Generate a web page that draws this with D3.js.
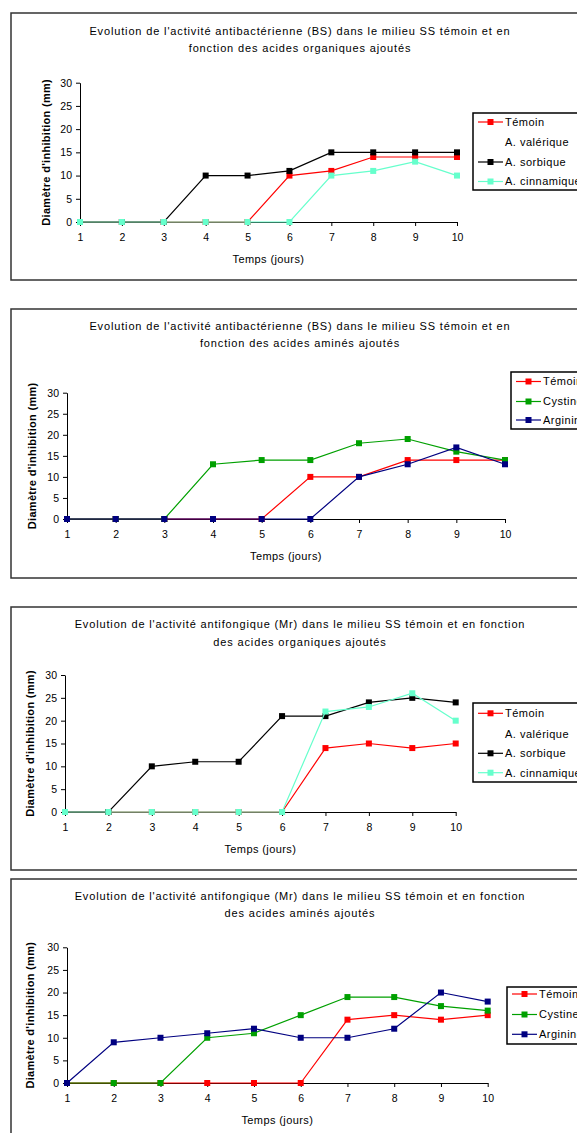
<!DOCTYPE html>
<html>
<head>
<meta charset="utf-8">
<script src="https://cdn.jsdelivr.net/npm/d3@7"></script>
<style>
  body { margin: 0; background: #fff; }
  svg { display: block; font-family: "Liberation Sans", Arial, sans-serif; }
</style>
</head>
<body>
<div id="chart"></div>
<script>
// Days on the x axis
const days = [1, 2, 3, 4, 5, 6, 7, 8, 9, 10];
const yTicks = [0, 5, 10, 15, 20, 25, 30];

// Chart 1 : BS, organic acids
const bsOrgTemoin = [0, 0, 0, 0, 0, 10, 11, 14, 14, 14];
const bsOrgValerique = [];
const bsOrgSorbique = [0, 0, 0, 10, 10, 11, 15, 15, 15, 15];
const bsOrgCinnamique = [0, 0, 0, 0, 0, 0, 10, 11, 13, 10];

// Chart 2 : BS, amino acids
const bsAmTemoin = [0, 0, 0, 0, 0, 10, 10, 14, 14, 14];
const bsAmCystine = [0, 0, 0, 13, 14, 14, 18, 19, 16, 14];
const bsAmArginine = [0, 0, 0, 0, 0, 0, 10, 13, 17, 13];

// Chart 3 : Mr, organic acids
const mrOrgTemoin = [0, 0, 0, 0, 0, 0, 14, 15, 14, 15];
const mrOrgValerique = [];
const mrOrgSorbique = [0, 0, 10, 11, 11, 21, 21, 24, 25, 24];
const mrOrgCinnamique = [0, 0, 0, 0, 0, 0, 22, 23, 26, 20];

// Chart 4 : Mr, amino acids
const mrAmTemoin = [0, 0, 0, 0, 0, 0, 14, 15, 14, 15];
const mrAmCystine = [0, 0, 0, 10, 11, 15, 19, 19, 17, 16];
const mrAmArginine = [0, 9, 10, 11, 12, 10, 10, 12, 20, 18];

const titles = [
    ["Evolution de l'activité antibactérienne (BS) dans le milieu SS témoin et en", "fonction des acides organiques ajoutés"],
    ["Evolution de l'activité antibactérienne (BS) dans le milieu SS témoin et en", "fonction des acides aminés ajoutés"],
    ["Evolution de l'activité antifongique (Mr) dans le milieu SS témoin et en fonction", "des acides organiques ajoutés"],
    ["Evolution de l'activité antifongique (Mr) dans le milieu SS témoin et en fonction", "des acides aminés ajoutés"]
];
const xTitle = 'Temps (jours)';
const yTitle = "Diamètre d'inhibition (mm)";

// Series colours
const cRed = '#ff0000';
const cBlack = '#000000';
const cCyan = '#66ffcc';
const cGreen = '#00a000';
const cNavy = '#000080';

const organic = (t, v, s, c) => [
    { name: 'Témoin', values: t, color: cRed },
    { name: 'A. valérique', values: v, color: 'none' },
    { name: 'A. sorbique', values: s, color: cBlack },
    { name: 'A. cinnamique', values: c, color: cCyan }
];
const amino = (t, c, a) => [
    { name: 'Témoin', values: t, color: cRed },
    { name: 'Cystine', values: c, color: cGreen },
    { name: 'Arginine', values: a, color: cNavy }
];

// Layout of each panel (box, plot area, legend)
const panels = [
    { top: 13, bottom: 280, titleY: [35, 52], x0: 80, x1: 457, y0: 222, y1: 82.7, yLabX: 46,
      leg: { x: 473, top: 113, bottom: 190, rows: [122, 142.5, 162, 181.5] },
      series: organic(bsOrgTemoin, bsOrgValerique, bsOrgSorbique, bsOrgCinnamique) },
    { top: 309, bottom: 578, titleY: [330, 347], x0: 67, x1: 505, y0: 519, y1: 392.7, yLabX: 32,
      leg: { x: 511, top: 372, bottom: 429, rows: [381.5, 401.5, 420] },
      series: amino(bsAmTemoin, bsAmCystine, bsAmArginine) },
    { top: 607, bottom: 870, titleY: [628, 646], x0: 65, x1: 455.7, y0: 812, y1: 675, yLabX: 30,
      leg: { x: 473, top: 703, bottom: 782, rows: [713.3, 734, 753.3, 772.7] },
      series: organic(mrOrgTemoin, mrOrgValerique, mrOrgSorbique, mrOrgCinnamique) },
    { top: 879, bottom: 1145, titleY: [900, 917], x0: 67, x1: 487.7, y0: 1083, y1: 947.3, yLabX: 30,
      leg: { x: 507, top: 987, bottom: 1044, rows: [994, 1014.5, 1034.3] },
      series: amino(mrAmTemoin, mrAmCystine, mrAmArginine) }
];

const svg = d3.select('#chart')
    .append('svg')
    .attr('width', 577)
    .attr('height', 1133);

panels.forEach((p, i) => {
    const g = svg.append('g');

    // Outer box of the chart
    g.append('rect')
        .attr('x', 11)
        .attr('y', p.top)
        .attr('width', 620)
        .attr('height', p.bottom - p.top)
        .attr('fill', '#fff')
        .attr('stroke', '#333')
        .attr('stroke-width', 1.5);

    // Title on two lines
    titles[i].forEach((line, k) => {
        g.append('text')
            .attr('x', 300)
            .attr('y', p.titleY[k])
            .attr('text-anchor', 'middle')
            .style('font-size', '11px')
            .style('letter-spacing', '0.85px')
            .text(line);
    });

    const x = d3.scalePoint().domain(days).range([p.x0, p.x1]);
    const y = d3.scaleLinear().domain([0, 30]).range([p.y0, p.y1]);

    // Axes
    const yAxis = g.append('g')
        .attr('transform', `translate(${p.x0},0)`)
        .call(d3.axisLeft(y).tickValues(yTicks).tickSize(4).tickPadding(4).tickSizeOuter(0));
    const xAxis = g.append('g')
        .attr('transform', `translate(0,${p.y0})`)
        .call(d3.axisBottom(x).tickSize(4).tickPadding(8).tickSizeOuter(0));
    [xAxis, yAxis].forEach(a => {
        a.select('.domain').attr('stroke', '#000');
        a.selectAll('line').attr('stroke', '#000');
        a.selectAll('text')
            .attr('fill', '#000')
            .style('font-size', '10.5px')
            .style('font-family', '"Liberation Sans", Arial, sans-serif');
    });

    // Axis titles
    g.append('text')
        .attr('x', (p.x0 + p.x1) / 2)
        .attr('y', p.y0 + 41)
        .attr('text-anchor', 'middle')
        .style('font-size', '11px')
        .style('letter-spacing', '0.4px')
        .text(xTitle);
    g.append('text')
        .attr('transform', `translate(${p.yLabX},${(p.y0 + p.y1) / 2}) rotate(-90)`)
        .attr('text-anchor', 'middle')
        .attr('dy', '0.35em')
        .style('font-size', '11px')
        .style('letter-spacing', '0.3px')
        .style('font-weight', 'bold')
        .text(yTitle);

    // Lines and square markers
    const line = d3.line()
        .x((d, k) => x(days[k]))
        .y(d => y(d));
    p.series.forEach(s => {
        if (!s.values.length) return;
        g.append('path')
            .datum(s.values)
            .attr('fill', 'none')
            .attr('stroke', s.color)
            .attr('stroke-width', 1.2)
            .attr('d', line);
        g.selectAll(null)
            .data(s.values)
            .enter()
            .append('rect')
            .attr('x', (d, k) => x(days[k]) - 3)
            .attr('y', d => y(d) - 3)
            .attr('width', 6)
            .attr('height', 6)
            .attr('fill', s.color);
    });

    // Legend
    const leg = g.append('g');
    leg.append('rect')
        .attr('x', p.leg.x)
        .attr('y', p.leg.top)
        .attr('width', 200)
        .attr('height', p.leg.bottom - p.leg.top)
        .attr('fill', '#fff')
        .attr('stroke', '#000')
        .attr('stroke-width', 1.5);
    p.series.forEach((s, k) => {
        const ry = p.leg.rows[k];
        if (s.values.length) {
            leg.append('line')
                .attr('x1', p.leg.x + 5)
                .attr('x2', p.leg.x + 30)
                .attr('y1', ry)
                .attr('y2', ry)
                .attr('stroke', s.color)
                .attr('stroke-width', 1.2);
            leg.append('rect')
                .attr('x', p.leg.x + 14.5)
                .attr('y', ry - 3)
                .attr('width', 6)
                .attr('height', 6)
                .attr('fill', s.color);
        }
        leg.append('text')
            .attr('x', p.leg.x + 32)
            .attr('y', ry)
            .attr('dy', '0.35em')
            .style('font-size', '11px')
            .style('letter-spacing', '0.5px')
            .text(s.name);
    });
});
</script>
</body>
</html>
